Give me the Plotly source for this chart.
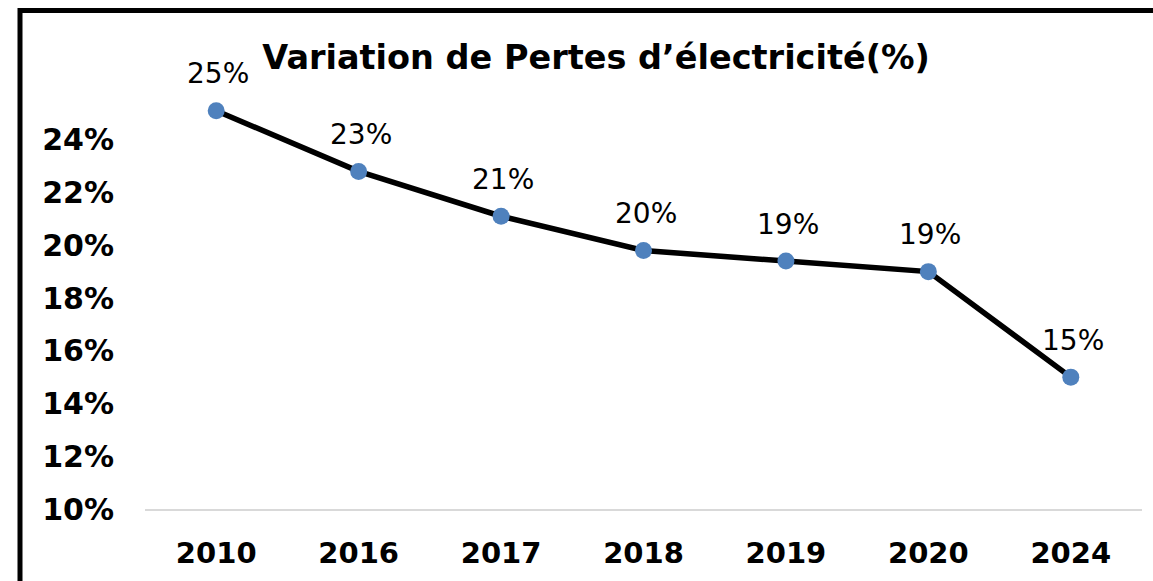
import plotly.graph_objects as go

years = ["2010", "2016", "2017", "2018", "2019", "2020", "2024"]
pertes = [0.251, 0.228, 0.211, 0.198, 0.194, 0.190, 0.150]
y_ticks = [0.10, 0.12, 0.14, 0.16, 0.18, 0.20, 0.22, 0.24]
y_tick_labels = ["10%", "12%", "14%", "16%", "18%", "20%", "22%", "24%"]
title_text = "Variation de Pertes d’électricité(%)"

W, H = 1153, 581
L, R, T, B = 145, 11, 87, 72
pw, ph = W - L - R, H - T - B

fig = go.Figure()
fig.add_trace(go.Scatter(
    x=years, y=pertes, mode="lines+markers",
    line=dict(color="black", width=5.5),
    marker=dict(color="#4F81BD", size=17),
    hoverinfo="skip", showlegend=False,
))

for i, v in enumerate(pertes):
    fig.add_annotation(
        x=i, y=v, xref="x", yref="y", text=f"{round(v*100):d}%", showarrow=False,
        yshift=37, xshift=2,
        font=dict(family="DejaVu Sans", size=28, color="black"),
    )

def px_x(p):
    return (p - L) / pw

def px_y(p):
    return (H - B - p) / ph

fig.add_shape(type="rect", xref="paper", yref="paper",
              x0=px_x(20), x1=px_x(1175), y0=px_y(600), y1=px_y(10.5),
              line=dict(color="black", width=5), fillcolor="rgba(0,0,0,0)",
              layer="above")

fig.update_layout(
    width=W, height=H,
    margin=dict(l=L, r=R, t=T, b=B, autoexpand=False),
    paper_bgcolor="white", plot_bgcolor="white",
    title=dict(text=title_text, x=0.517, xanchor="center", y=1 - 57 / H, yanchor="middle",
               automargin=False,
               font=dict(family="DejaVu Sans", size=33.5, color="black", weight="bold")),
    xaxis=dict(type="category", range=[-0.5, 6.5], showgrid=False,
               showline=True, linecolor="#D9D9D9", linewidth=2,
               ticks="", ticklabelstandoff=17, automargin=False,
               tickfont=dict(family="DejaVu Sans", size=29, color="black", weight="bold")),
    yaxis=dict(range=[0.10, 0.26], tickvals=y_ticks, ticktext=y_tick_labels,
               showgrid=False, zeroline=False, showline=False, ticks="",
               ticklabelstandoff=30, automargin=False,
               tickfont=dict(family="DejaVu Sans", size=30, color="black", weight="bold")),
)

fig.write_html("out.html", config={"displayModeBar": False},
               post_script="document.body.style.margin='0';document.body.style.overflow='hidden';")
